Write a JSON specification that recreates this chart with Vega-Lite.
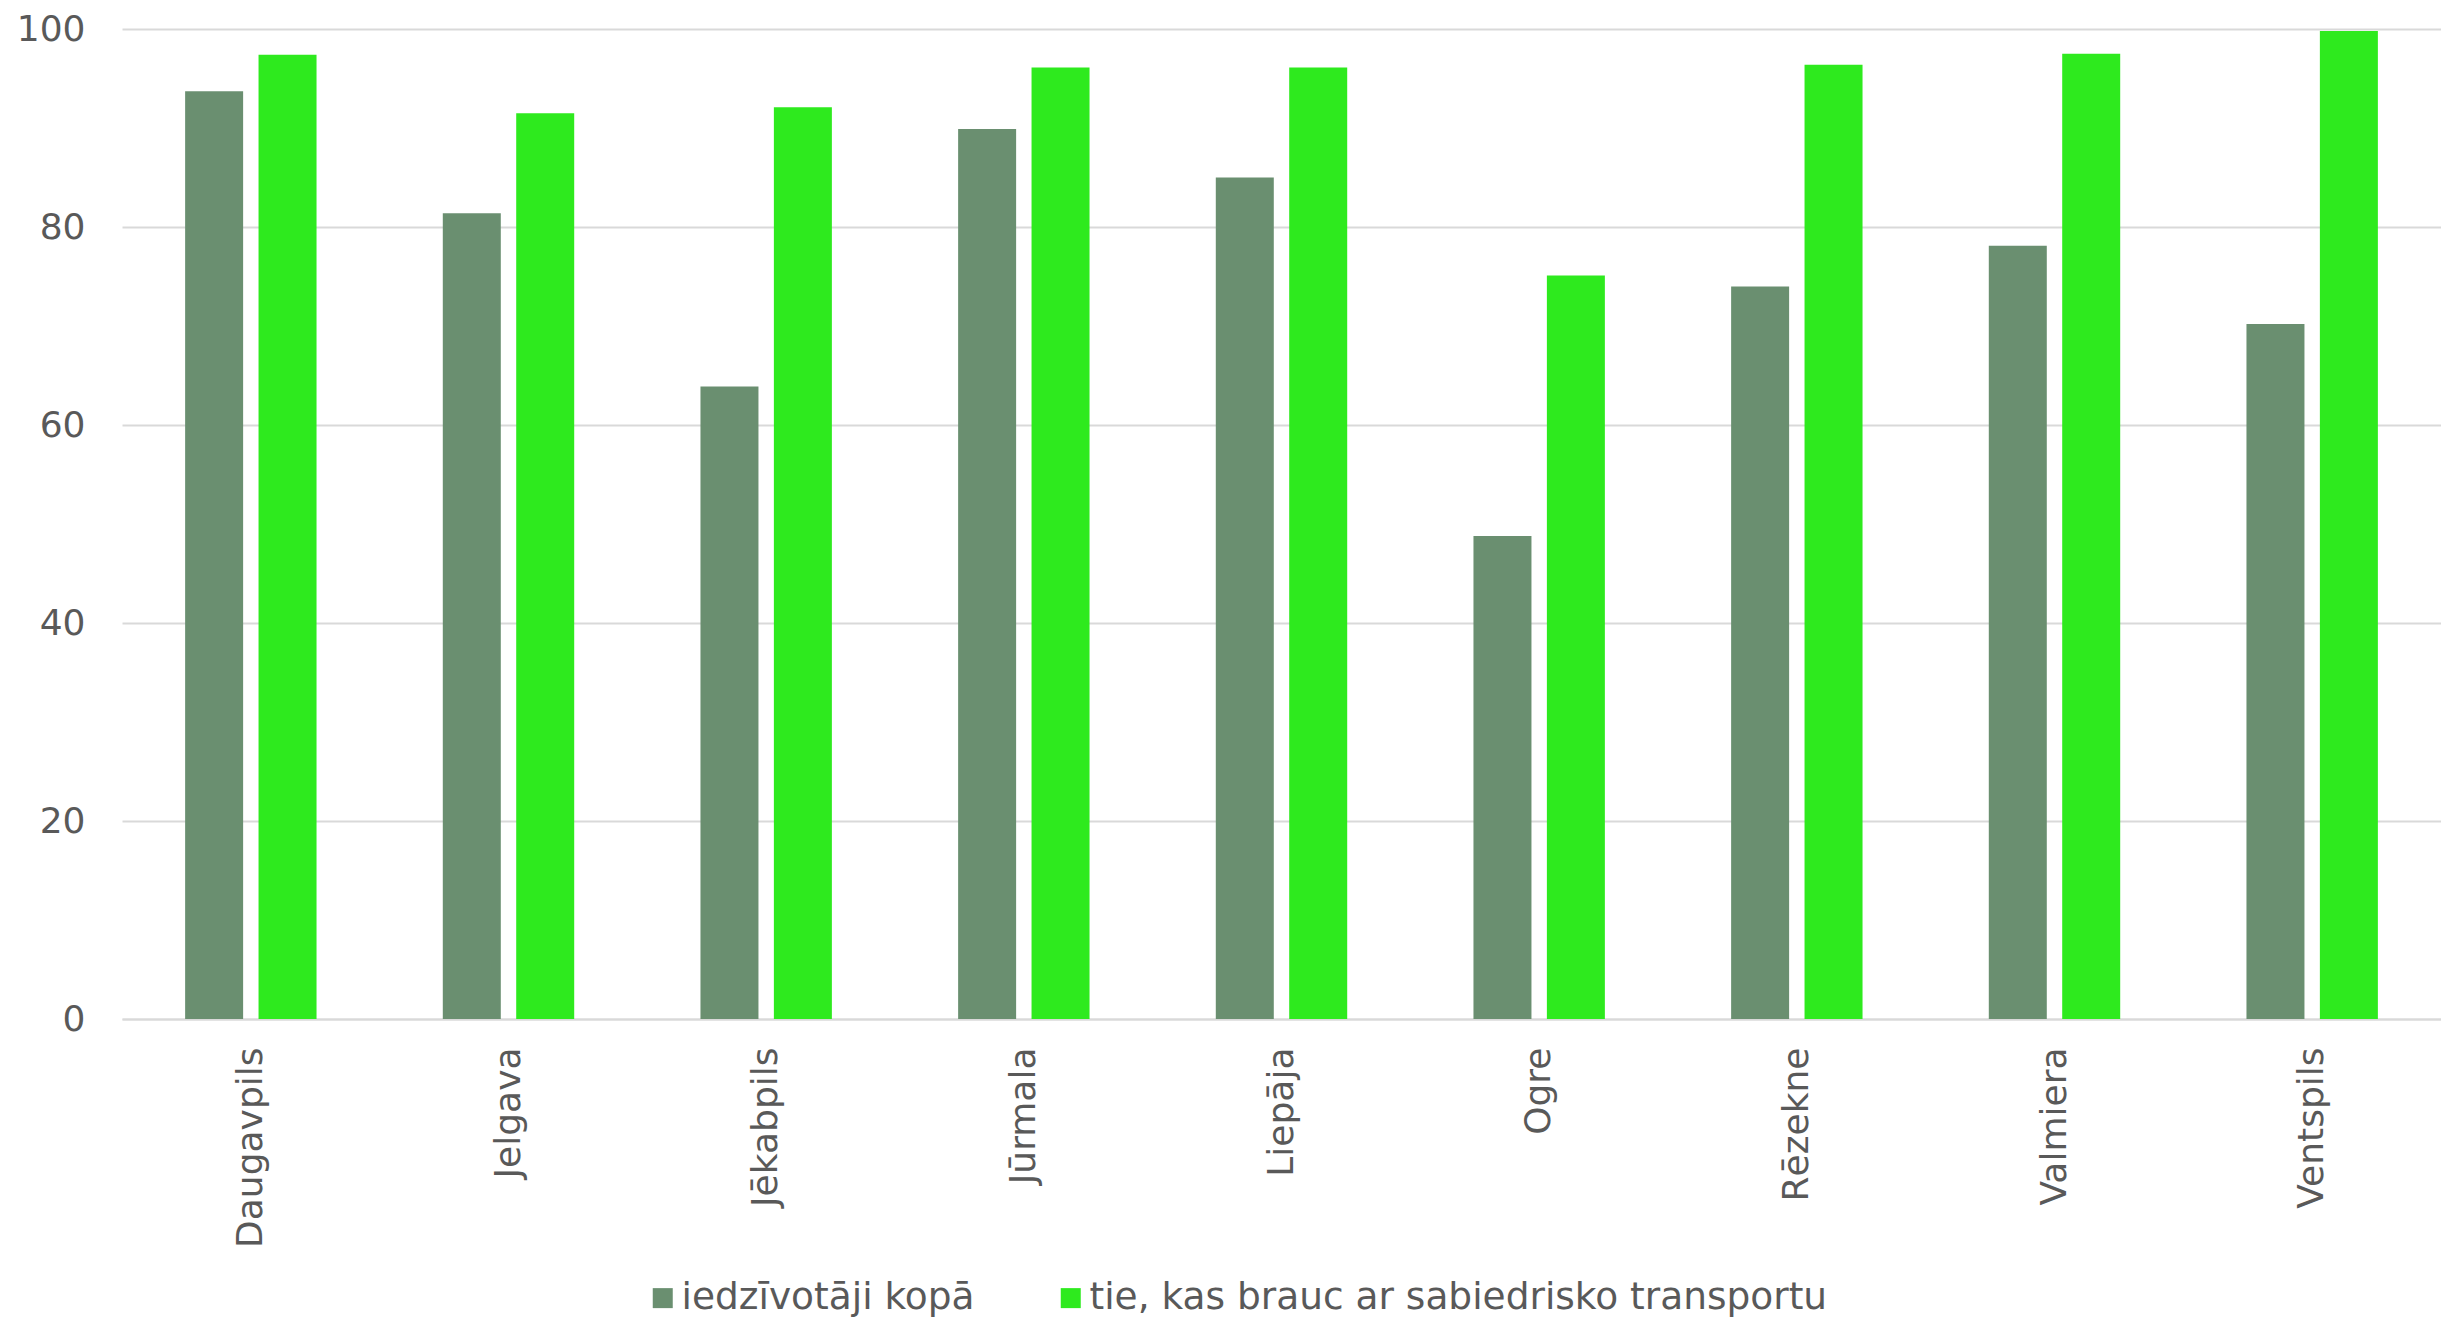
{
  "$schema": "https://vega.github.io/schema/vega-lite/v6.json",
  "autosize": "none",
  "width": 2319,
  "height": 990,
  "padding": {"left": 122, "top": 29, "right": 0, "bottom": 299},
  "background": "white",
  "config": {
    "view": {"stroke": null},
    "font": "DejaVu Sans",
    "axis": {"labelFont": "DejaVu Sans", "labelColor": "#595959", "labelFontSize": 36, "labelLimit": 0},
    "legend": {"labelFont": "DejaVu Sans", "labelColor": "#595959", "labelFontSize": 37.5, "labelLimit": 0}
  },
  "data": {
    "values": [
      {"city": "Daugavpils", "series": "iedzīvotāji kopā", "value": 93.7},
      {"city": "Daugavpils", "series": "tie, kas brauc ar sabiedrisko transportu", "value": 97.4},
      {"city": "Jelgava", "series": "iedzīvotāji kopā", "value": 81.4},
      {"city": "Jelgava", "series": "tie, kas brauc ar sabiedrisko transportu", "value": 91.5},
      {"city": "Jēkabpils", "series": "iedzīvotāji kopā", "value": 63.9},
      {"city": "Jēkabpils", "series": "tie, kas brauc ar sabiedrisko transportu", "value": 92.1},
      {"city": "Jūrmala", "series": "iedzīvotāji kopā", "value": 89.9},
      {"city": "Jūrmala", "series": "tie, kas brauc ar sabiedrisko transportu", "value": 96.1},
      {"city": "Liepāja", "series": "iedzīvotāji kopā", "value": 85.0},
      {"city": "Liepāja", "series": "tie, kas brauc ar sabiedrisko transportu", "value": 96.1},
      {"city": "Ogre", "series": "iedzīvotāji kopā", "value": 48.8},
      {"city": "Ogre", "series": "tie, kas brauc ar sabiedrisko transportu", "value": 75.1},
      {"city": "Rēzekne", "series": "iedzīvotāji kopā", "value": 74.0},
      {"city": "Rēzekne", "series": "tie, kas brauc ar sabiedrisko transportu", "value": 96.4},
      {"city": "Valmiera", "series": "iedzīvotāji kopā", "value": 78.1},
      {"city": "Valmiera", "series": "tie, kas brauc ar sabiedrisko transportu", "value": 97.5},
      {"city": "Ventspils", "series": "iedzīvotāji kopā", "value": 70.2},
      {"city": "Ventspils", "series": "tie, kas brauc ar sabiedrisko transportu", "value": 99.8}
    ]
  },
  "mark": {"type": "bar"},
  "encoding": {
    "x": {
      "field": "city",
      "type": "nominal",
      "sort": ["Daugavpils", "Jelgava", "Jēkabpils", "Jūrmala", "Liepāja", "Ogre", "Rēzekne", "Valmiera", "Ventspils"],
      "scale": {"paddingInner": 0.49, "paddingOuter": 0.245},
      "axis": {
        "title": null,
        "labelAngle": -90,
        "labelPadding": 28,
        "ticks": false,
        "domain": true,
        "domainColor": "#D9D9D9",
        "domainWidth": 2
      }
    },
    "xOffset": {
      "field": "series",
      "type": "nominal",
      "sort": ["iedzīvotāji kopā", "tie, kas brauc ar sabiedrisko transportu"],
      "scale": {"paddingInner": 0.21, "paddingOuter": 0}
    },
    "y": {
      "field": "value",
      "type": "quantitative",
      "scale": {"domain": [0, 100], "nice": false},
      "axis": {
        "title": null,
        "values": [0, 20, 40, 60, 80, 100],
        "ticks": false,
        "domain": false,
        "labelPadding": 37,
        "gridColor": "#D9D9D9",
        "gridWidth": 2
      }
    },
    "color": {
      "field": "series",
      "type": "nominal",
      "sort": ["iedzīvotāji kopā", "tie, kas brauc ar sabiedrisko transportu"],
      "scale": {
        "domain": ["iedzīvotāji kopā", "tie, kas brauc ar sabiedrisko transportu"],
        "range": ["#6A8F70", "#2EEA1E"]
      },
      "legend": {
        "title": null,
        "orient": "none",
        "direction": "horizontal",
        "legendX": 522,
        "legendY": 1250,
        "padding": 0,
        "symbolType": "square",
        "symbolSize": 400,
        "symbolStrokeWidth": 0,
        "labelOffset": 0,
        "columnPadding": 77
      }
    }
  }
}
